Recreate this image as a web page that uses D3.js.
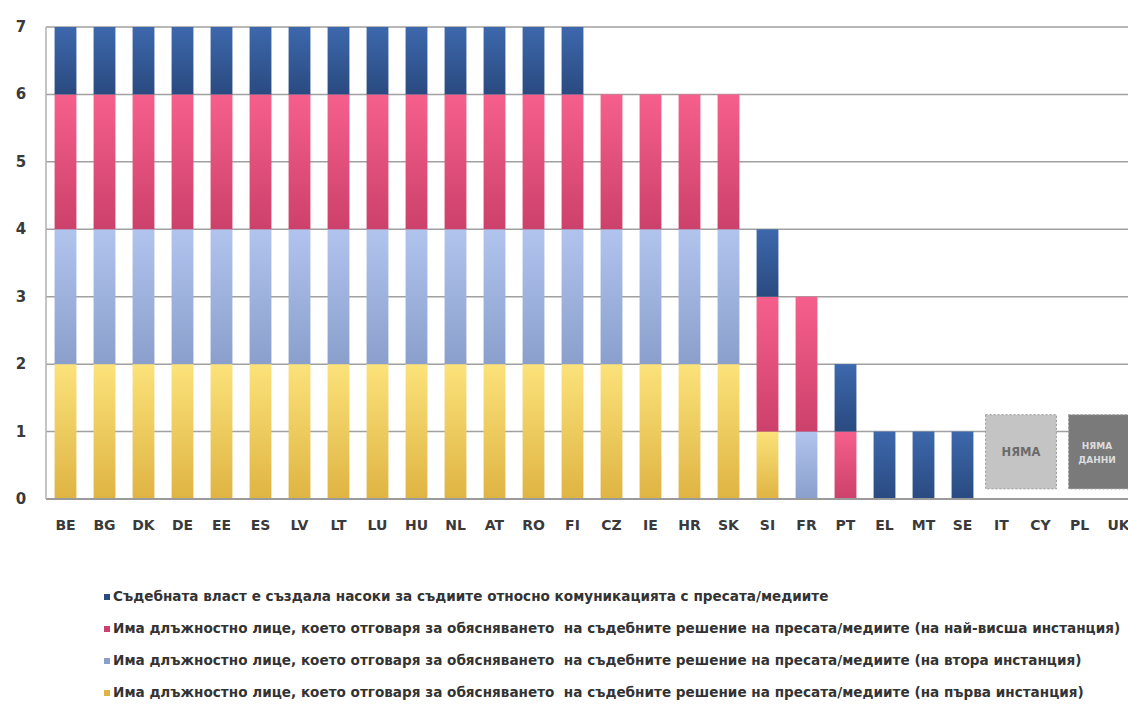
<!DOCTYPE html>
<html>
<head>
<meta charset="utf-8">
<script src="https://cdn.jsdelivr.net/npm/d3@7"></script>
<style>
  body { margin: 0; background: #fff; }
  svg { display: block; font-family: "DejaVu Sans", sans-serif; }
</style>
</head>
<body>
<svg id="chart" width="1128" height="706"></svg>
<script>

// Countries along the x axis
const countries = ["BE", "BG", "DK", "DE", "EE", "ES", "LV", "LT", "LU", "HU", "NL", "AT", "RO", "FI",
                   "CZ", "IE", "HR", "SK", "SI", "FR", "PT", "EL", "MT", "SE", "IT", "CY", "PL", "UK"];

// Series values, stacked bottom to top
const firstInstance  = [2,2,2,2,2,2,2,2,2,2,2,2,2,2, 2,2,2,2, 1,0,0, 0,0,0, 0,0,0,0];
const secondInstance = [2,2,2,2,2,2,2,2,2,2,2,2,2,2, 2,2,2,2, 0,1,0, 0,0,0, 0,0,0,0];
const highestInst    = [2,2,2,2,2,2,2,2,2,2,2,2,2,2, 2,2,2,2, 2,2,1, 0,0,0, 0,0,0,0];
const guidelines     = [1,1,1,1,1,1,1,1,1,1,1,1,1,1, 0,0,0,0, 1,0,1, 1,1,1, 0,0,0,0];

const yTicks = [0, 1, 2, 3, 4, 5, 6, 7];

const legendLabels = [
    "Съдебната власт е създала насоки за съдиите относно комуникацията с пресата/медиите",
    "Има длъжностно лице, което отговаря за обясняването  на съдебните решение на пресата/медиите (на най-висша инстанция)",
    "Има длъжностно лице, което отговаря за обясняването  на съдебните решение на пресата/медиите (на втора инстанция)",
    "Има длъжностно лице, което отговаря за обясняването  на съдебните решение на пресата/медиите (на първа инстанция)"
];

// Notes drawn over countries without data
const notes = [
    { from: "IT", to: "CY", lines: ["НЯМА"], fill: "#c4c4c4", text: "#6b6b6b", padL: 5, padR: 5, size: 11.5 },
    { from: "PL", to: "UK", lines: ["НЯМА", "ДАННИ"], fill: "#7a7a7a", text: "#dcdcdc", padL: 0, padR: 20, size: 9 }
];

const series = [
    { key: "first",   values: firstInstance,  top: "#fbe27a", bottom: "#dfb443" },
    { key: "second",  values: secondInstance, top: "#b0c4ee", bottom: "#8b9fcc" },
    { key: "highest", values: highestInst,    top: "#f65f8c", bottom: "#cc416b" },
    { key: "guide",   values: guidelines,     top: "#3d68ac", bottom: "#2a4a80" }
];

const svg = d3.select("#chart");
const margin = { left: 46, top: 27, bottom: 499 };

const x = d3.scaleBand()
    .domain(countries)
    .range([margin.left, margin.left + countries.length * 39])
    .paddingInner(0.44)
    .paddingOuter(0.22);

const y = d3.scaleLinear().domain([0, 7]).range([margin.bottom, margin.top]);

// Gradients for each series
const defs = svg.append("defs");
series.forEach(s => {
    const g = defs.append("linearGradient")
        .attr("id", "grad-" + s.key)
        .attr("x1", 0).attr("y1", 0).attr("x2", 0).attr("y2", 1);
    g.append("stop").attr("offset", "0%").attr("stop-color", s.top);
    g.append("stop").attr("offset", "100%").attr("stop-color", s.bottom);
});

// Grid lines
svg.append("g")
    .selectAll("line")
    .data(yTicks.filter(d => d > 0))
    .enter()
    .append("line")
    .attr("x1", margin.left).attr("x2", 1128)
    .attr("y1", d => y(d)).attr("y2", d => y(d))
    .attr("stroke", "#a0a0a0")
    .attr("stroke-width", 1.5);

// Stacked bars
const table = countries.map((c, i) => {
    const row = { country: c };
    series.forEach(s => row[s.key] = s.values[i]);
    return row;
});
const stacked = d3.stack().keys(series.map(s => s.key))(table);

svg.append("g")
    .selectAll("g")
    .data(stacked)
    .enter()
    .append("g")
    .attr("fill", d => `url(#grad-${d.key})`)
    .selectAll("rect")
    .data(d => d.filter(p => p[1] > p[0]))
    .enter()
    .append("rect")
    .attr("x", d => x(d.data.country))
    .attr("width", x.bandwidth())
    .attr("y", d => y(d[1]))
    .attr("height", d => y(d[0]) - y(d[1]));

// Axes lines
svg.append("line")
    .attr("x1", margin.left).attr("x2", 1128)
    .attr("y1", margin.bottom).attr("y2", margin.bottom)
    .attr("stroke", "#9a9a9a").attr("stroke-width", 2);
svg.append("line")
    .attr("x1", margin.left).attr("x2", margin.left)
    .attr("y1", margin.top).attr("y2", margin.bottom)
    .attr("stroke", "#b0b0b0").attr("stroke-width", 1.5);

// Y tick labels
svg.append("g")
    .selectAll("text")
    .data(yTicks)
    .enter()
    .append("text")
    .attr("x", 21)
    .attr("y", d => y(d) + 5)
    .attr("text-anchor", "middle")
    .attr("font-size", 15)
    .attr("font-weight", "bold")
    .attr("fill", "#3a3a3a")
    .text(d => d);

// X tick labels
svg.append("g")
    .selectAll("text")
    .data(countries)
    .enter()
    .append("text")
    .attr("x", d => x(d) + x.bandwidth() / 2)
    .attr("y", 530)
    .attr("text-anchor", "middle")
    .attr("font-size", 14)
    .attr("font-weight", "bold")
    .attr("fill", "#3a3a3a")
    .text(d => d);

// "No data" boxes
const noteG = svg.append("g")
    .selectAll("g")
    .data(notes)
    .enter()
    .append("g");
noteG.append("rect")
    .attr("x", d => x(d.from) - d.padL)
    .attr("width", d => x(d.to) + x.bandwidth() + d.padR - (x(d.from) - d.padL))
    .attr("y", y(1.25))
    .attr("height", y(0.15) - y(1.25))
    .attr("fill", d => d.fill)
    .attr("stroke", "#999")
    .attr("stroke-dasharray", "2,2");
noteG.each(function (d) {
    const cx = d.lines.length > 1 ? 1097 : (x(d.from) + x(d.to) + x.bandwidth()) / 2;
    const cy = y(0.7);
    d3.select(this).selectAll("text")
        .data(d.lines)
        .enter()
        .append("text")
        .attr("x", cx)
        .attr("y", (t, i) => cy + 4 + (i - (d.lines.length - 1) / 2) * 14)
        .attr("text-anchor", "middle")
        .attr("font-size", d.size)
        .attr("font-weight", "bold")
        .attr("fill", d.text)
        .text(t => t);
});

// Legend
const legend = svg.append("g")
    .selectAll("g")
    .data(legendLabels.map((l, i) => ({ label: l, s: series[series.length - 1 - i] })))
    .enter()
    .append("g")
    .attr("transform", (d, i) => `translate(104, ${601 + i * 32})`);
legend.append("rect")
    .attr("x", 0).attr("y", -7)
    .attr("width", 6).attr("height", 6)
    .attr("fill", d => d.s.bottom);
legend.append("text")
    .attr("x", 9)
    .attr("y", 0)
    .attr("font-size", 13.6)
    .attr("fill", "#333")
    .attr("font-weight", 600)
    .style("white-space", "pre")
    .text(d => d.label);

</script>
</body>
</html>
